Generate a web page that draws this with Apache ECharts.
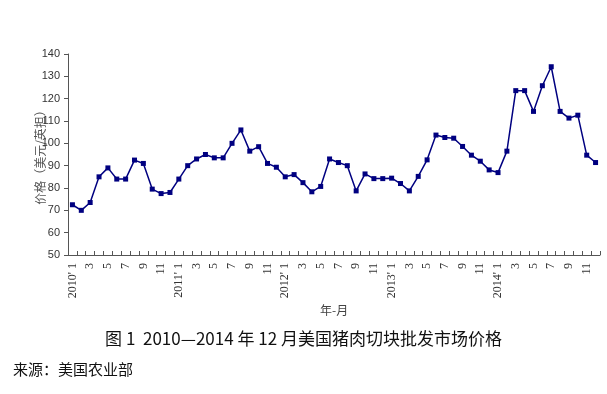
<!DOCTYPE html>
<html><head><meta charset="utf-8">
<script src="https://cdn.jsdelivr.net/npm/echarts@6/dist/echarts.min.js"></script>
<style>html,body{margin:0;padding:0;background:#fff}#c{width:607px;height:394px}</style>
</head><body><div id="c"></div>
<script>
const categories = [
 "2010-01","2010-02","2010-03","2010-04","2010-05","2010-06","2010-07","2010-08","2010-09","2010-10","2010-11","2010-12",
 "2011-01","2011-02","2011-03","2011-04","2011-05","2011-06","2011-07","2011-08","2011-09","2011-10","2011-11","2011-12",
 "2012-01","2012-02","2012-03","2012-04","2012-05","2012-06","2012-07","2012-08","2012-09","2012-10","2012-11","2012-12",
 "2013-01","2013-02","2013-03","2013-04","2013-05","2013-06","2013-07","2013-08","2013-09","2013-10","2013-11","2013-12",
 "2014-01","2014-02","2014-03","2014-04","2014-05","2014-06","2014-07","2014-08","2014-09","2014-10","2014-11","2014-12"];
const tickLabels = [
 "2010' 1","","3","","5","","7","","9","","11","",
 "2011' 1","","3","","5","","7","","9","","11","",
 "2012' 1","","3","","5","","7","","9","","11","",
 "2013' 1","","3","","5","","7","","9","","11","",
 "2014' 1","","3","","5","","7","","9","","11",""];
const prices = [
 72.5,70,73.5,85,89,84,84,92.5,91,79.5,77.5,78,
 84,90,93,95,93.5,93.5,100,106,96.5,98.5,91,89.3,
 85,86,82.4,78.3,80.7,93,91.4,90,78.7,86.3,84.2,84.2,
 84.4,82,78.7,85.2,92.6,103.7,102.6,102.3,98.6,94.7,92,88.1,
 86.9,96.5,123.6,123.6,114.3,125.8,134.3,114.3,111.3,112.6,94.7,91.4];
const yMin = 50, yMax = 140, yStep = 10;
const titleText = "图 1  2010—2014 年 12 月美国猪肉切块批发市场价格";
const sourceText = "来源：美国农业部";
const yName = "价格（美元/英担）";
const xName = "年-月";

const chart = echarts.init(document.getElementById('c'), null, {renderer:'canvas'});
chart.setOption({
  animation:false,
  backgroundColor:'#fff',
  grid:{left:68,right:7,top:54,bottom:139,containLabel:false},
  title:[
    {text:titleText,left:'center',top:325,textStyle:{fontFamily:'Noto Sans CJK SC',fontSize:17,fontWeight:'normal',color:'#111'}},
    {text:sourceText,left:8,top:357,textStyle:{fontFamily:'Noto Sans CJK SC',fontSize:15,fontWeight:'normal',color:'#111'}}
  ],
  graphic:[
    {type:'text',left:320,top:304,style:{text:xName,font:'12px "Noto Sans CJK SC"',fill:'#444'}}
  ],
  xAxis:{
    type:'category',data:categories,boundaryGap:true,
    axisLine:{lineStyle:{color:'#555',width:1}},
    axisTick:{show:true,interval:0,inside:true,length:4,lineStyle:{color:'#555'}},
    axisLabel:{interval:0,rotate:90,margin:8,fontFamily:'Liberation Serif',fontSize:12,color:'#333',
      formatter:(v,i)=>tickLabels[i]}
  },
  yAxis:{
    type:'value',min:yMin,max:yMax,interval:yStep,
    name:yName,nameLocation:'middle',nameGap:22,nameRotate:90,nameMoveOverlap:false,
    nameTextStyle:{fontFamily:'Noto Sans CJK SC',fontSize:12,color:'#555'},
    splitLine:{show:false},
    axisLine:{show:true,lineStyle:{color:'#555',width:1}},
    axisTick:{show:true,length:4,lineStyle:{color:'#555'}},
    axisLabel:{fontFamily:'Liberation Sans',fontSize:11,color:'#333',margin:8}
  },
  series:[{
    type:'line',data:prices,
    lineStyle:{color:'#000080',width:1.5},
    itemStyle:{color:'#000080'},
    symbol:'rect',symbolSize:5,showSymbol:true
  }]
});
</script></body></html>
